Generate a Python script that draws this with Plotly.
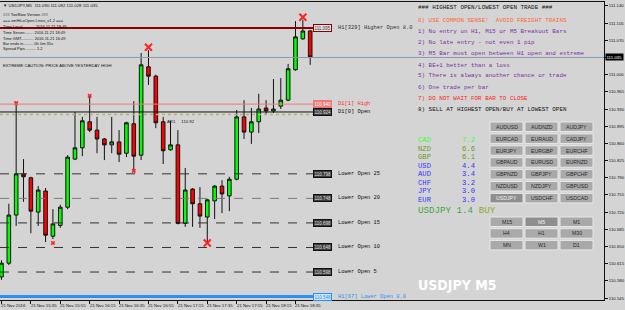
import plotly.graph_objects as go

# ---------------- data ----------------
bar_index = list(range(43))
opens = [110.588, 110.616, 110.714, 110.798, 110.790, 110.720, 110.763, 110.671, 110.693, 110.730,
         110.828, 110.851, 110.904, 110.887, 110.869, 110.857, 110.863, 110.840, 110.900, 110.836,
         111.016, 110.997, 110.904, 110.847, 110.857, 110.697, 110.767, 110.737, 110.710, 110.743,
         110.773, 110.753, 110.787, 110.914, 110.883, 110.904, 110.932, 110.926, 110.936, 110.948,
         111.010, 111.073, 111.089]
highs = [110.622, 110.737, 110.942, 110.828, 110.792, 110.773, 110.769, 110.726, 110.735, 110.836,
         110.924, 110.914, 110.957, 110.914, 110.871, 110.914, 110.887, 110.904, 110.946, 111.044,
         111.050, 111.000, 110.914, 110.906, 110.887, 110.810, 110.769, 110.771, 110.747, 110.775,
         110.785, 110.792, 110.928, 110.948, 110.932, 110.961, 110.948, 110.991, 110.993, 111.022,
         111.109, 111.112, 111.091]
lows = [110.582, 110.612, 110.692, 110.741, 110.677, 110.692, 110.659, 110.665, 110.688, 110.726,
        110.826, 110.834, 110.883, 110.840, 110.826, 110.840, 110.822, 110.832, 110.806, 110.826,
        110.979, 110.891, 110.818, 110.845, 110.695, 110.690, 110.690, 110.688, 110.659, 110.706,
        110.718, 110.722, 110.785, 110.869, 110.859, 110.881, 110.918, 110.922, 110.930, 110.946,
        111.008, 111.071, 111.020]
closes = [110.616, 110.714, 110.798, 110.792, 110.722, 110.765, 110.673, 110.696, 110.730, 110.832,
          110.851, 110.906, 110.887, 110.869, 110.857, 110.863, 110.838, 110.902, 110.834, 111.020,
          110.997, 110.902, 110.845, 110.857, 110.697, 110.765, 110.737, 110.712, 110.745, 110.773,
          110.757, 110.787, 110.914, 110.883, 110.904, 110.930, 110.926, 110.930, 110.948, 111.012,
          111.077, 111.089, 111.036]

time_tick_index = [0, 4, 8, 12, 16, 20, 24, 28, 32, 36, 40]
time_tick_labels = ["21 Nov 2016", "21 Nov 15:35", "21 Nov 15:55", "21 Nov 16:15", "21 Nov 16:35",
                    "21 Nov 16:55", "21 Nov 17:15", "21 Nov 17:35", "21 Nov 17:55", "21 Nov 18:15",
                    "21 Nov 18:35"]

price_ticks = [111.140, 111.105, 111.070, 111.035, 111.000, 110.965, 110.930, 110.895, 110.860,
               110.825, 110.790, 110.755, 110.720, 110.685, 110.650, 110.615, 110.580, 110.545]
price_tick_labels = ["111.140", "111.105", "111.070", "111.035", "111.000", "110.965", "110.930",
                     "110.895", "110.860", "110.825", "110.790", "110.755", "110.720", "110.685",
                     "110.650", "110.615", "110.580", "110.545"]
current_price = 111.035

level_prices = [111.095, 110.940, 110.924, 110.798, 110.748, 110.698, 110.648, 110.598, 110.548]
level_names = ["H1[329] Higher Open 8.0", "D1[1] High", "D1[0] Open", "Lower Open 25",
               "Lower Open 20", "Lower Open 15", "Lower Open 10", "Lower Open 5",
               "H1[67] Lower Open 0.0"]
ar1_price = 110.919
ar1_text = "AR1     110.92"

fractal_index = [2, 12, 7, 18]
fractal_price = [110.942, 110.957, 110.657, 110.804]
cross_index = [28, 20, 41]
cross_price = [110.657, 111.056, 111.117]

header_text = "\u25bc USDJPY,M5  111.090 111.092 111.028 111.035"
info_lines = ["### TooSlow Version ###",
              "=== smHiLoOpen Lines_v1.2 ===",
              "Time Local .......... 2016.11.21 18:49",
              "Time Server........ 2016.11.21 18:49",
              "Time GMT........... 2016.11.21 16:49",
              "Bar ends in......... 0h 0m 35s",
              "Spread Pips.......... 1.2"]
caution_text = "EXTREME CAUTION: PRICE ABOVE YESTERDAY HIGH"

rules_lines = ["### HIGHEST OPEN/LOWEST OPEN TRADE ###",
               "0) USE COMMON SENSE!  AVOID FREIGHT TRAINS",
               "1) No entry on H1, M15 or M5 Breakout Bars",
               "2) No late entry - not even 1 pip",
               "3) M5 Bar must open between H1 open and extreme",
               "4) BE+1 better than a loss",
               "5) There is always another chance or trade",
               "6) One trade per bar",
               "7) DO NOT WAIT FOR BAR TO CLOSE",
               "8) SELL AT HIGHEST OPEN/BUY AT LOWEST OPEN"]

currency_names = ["CAD", "NZD", "GBP", "USD", "AUD", "CHF", "JPY", "EUR"]
currency_strength = [7.2, 6.6, 6.1, 4.4, 3.4, 3.2, 3.0, 3.0]
signal_pair = "USDJPY"
signal_value = 1.4
signal_side = "BUY"

pair_buttons = [["AUDUSD", "AUDNZD", "AUDJPY"],
                ["EURCAD", "EURAUD", "CADJPY"],
                ["EURJPY", "EURGBP", "EURCHF"],
                ["GBPAUD", "EURUSD", "EURNZD"],
                ["GBPNZD", "GBPJPY", "GBPCHF"],
                ["NZDUSD", "NZDJPY", "GBPUSD"],
                ["USDJPY", "USDCHF", "USDCAD"]]
tf_buttons = [["M15", "M5", "M1"],
              ["H4", "H1", "M30"],
              ["MN", "W1", "D1"]]
selected_buttons = ["USDJPY", "M5"]
watermark = "USDJPY M5"

# ---------------- geometry / style ----------------
W, H = 625, 310
ML, MR, MT, MB = 0, 21, 2, 10
PW, PH = W - ML - MR, H - MT - MB
BG = "#D4D4D4"
SANS = "Liberation Sans, Arial, sans-serif"
MONO = "Liberation Mono, Courier New, monospace"


def px(x):
    return (x - ML) / PW


def py(y):
    return 1 - (y - MT) / PH


fig = go.Figure()

fig.add_trace(go.Candlestick(
    x=bar_index, open=opens, high=highs, low=lows, close=closes,
    increasing=dict(fillcolor="#00FF00", line=dict(color="#111111", width=1)),
    decreasing=dict(fillcolor="#FF0000", line=dict(color="#111111", width=1)),
    whiskerwidth=0, showlegend=False, hoverinfo="skip"))

fig.add_trace(go.Scatter(x=fractal_index, y=fractal_price, mode="markers",
                         marker=dict(symbol="x", size=4, color="#FF2020", line=dict(width=0)),
                         showlegend=False, hoverinfo="skip"))
fig.add_trace(go.Scatter(x=cross_index, y=cross_price, mode="markers",
                         marker=dict(symbol="x-thin", size=7, color="#FF2020",
                                     line=dict(width=2, color="#FF2020")),
                         showlegend=False, hoverinfo="skip"))

# level lines
line_styles = [
    dict(color="#8B0000", width=2, dash="solid"),
    dict(color="#F07878", width=1, dash="solid"),
    dict(color="#111111", width=1, dash="solid"),
    dict(color="#333333", width=1, dash="dash"),
    dict(color="#7A7A7A", width=1, dash="dash"),
    dict(color="#333333", width=1, dash="dash"),
    dict(color="#333333", width=1, dash="dash"),
    dict(color="#333333", width=1, dash="dash"),
    dict(color="#2E8FF0", width=3, dash="solid"),
]
box_styles = [
    dict(bg="#E4E4E4", border="#8B0000", fc="#333333"),
    dict(bg="#F07878", border="#F07878", fc="#FFFFFF"),
    dict(bg="#3A3A3A", border="#111111", fc="#E0E0E0"),
    dict(bg="#3A3A3A", border="#111111", fc="#E0E0E0"),
    dict(bg="#3A3A3A", border="#111111", fc="#E0E0E0"),
    dict(bg="#3A3A3A", border="#111111", fc="#E0E0E0"),
    dict(bg="#3A3A3A", border="#111111", fc="#E0E0E0"),
    dict(bg="#3A3A3A", border="#111111", fc="#E0E0E0"),
    dict(bg="#CFE6FF", border="#2E8FF0", fc="#2E8FF0"),
]
name_colors = ["#333333", "#FF3030", "#111111", "#111111", "#111111", "#111111", "#111111",
               "#111111", "#2E8FF0"]

# bid line
fig.add_shape(type="line", xref="paper", yref="y", x0=0, x1=1, y0=current_price, y1=current_price,
              line=dict(color="#8A9AAA", width=1))
# AR1 dotted line
fig.add_shape(type="line", xref="paper", yref="y", x0=0, x1=px(313), y0=ar1_price, y1=ar1_price,
              line=dict(color="#B4B46A", width=1.5, dash="dot"))
fig.add_annotation(x=px(166), y=ar1_price, xref="paper", yref="y", yshift=-3.5, text=ar1_text,
                   showarrow=False, xanchor="left", yanchor="top",
                   font=dict(family=SANS, size=4.3, color="#111111"), borderpad=0)

for p, nm, ls, bs, nc in zip(level_prices, level_names, line_styles, box_styles, name_colors):
    fig.add_shape(type="line", xref="paper", yref="y", x0=0, x1=px(314), y0=p, y1=p, line=ls)
    fig.add_annotation(x=px(313), y=p, xref="paper", yref="y", text=f"{p:.3f}", showarrow=False,
                       xanchor="left", yanchor="middle", bgcolor=bs["bg"], bordercolor=bs["border"],
                       borderwidth=1, borderpad=0.5,
                       font=dict(family=SANS, size=4.5, color=bs["fc"]))
    fig.add_annotation(x=px(337), y=p, xref="paper", yref="y", text=nm, showarrow=False,
                       xanchor="left", yanchor="middle",
                       font=dict(family=MONO, size=5.4, color=nc), borderpad=0)

# current price tag on axis (replaces that tick's own label, as in the terminal)
axis_labels = ["" if abs(v - current_price) < 1e-9 else t for v, t in zip(price_ticks, price_tick_labels)]
fig.add_annotation(x=px(605), y=current_price, xref="paper", yref="y", text=f"{current_price:.3f}",
                   showarrow=False, xanchor="left", yanchor="middle", bgcolor="#000000",
                   borderpad=0.5, font=dict(family=SANS, size=4.3, color="#FFFFFF"))

# time labels
for i, lab in zip(time_tick_index, time_tick_labels):
    fig.add_annotation(x=i, y=py(305.5), xref="x", yref="paper", text=lab, showarrow=False,
                       xanchor="left", yanchor="middle", xshift=-1, borderpad=0,
                       font=dict(family=SANS, size=4.3, color="#111111"))

# top-left info
fig.add_annotation(x=px(2), y=py(5), xref="paper", yref="paper", text=header_text, showarrow=False,
                   xanchor="left", yanchor="middle", borderpad=0,
                   font=dict(family=SANS, size=4.3, color="#111111"))
info_y = [15, 20.5, 26, 32.5, 38, 43.5, 49]
for t, yy in zip(info_lines, info_y):
    fig.add_annotation(x=px(2), y=py(yy), xref="paper", yref="paper", text=t, showarrow=False,
                       xanchor="left", yanchor="middle", borderpad=0,
                       font=dict(family=SANS, size=4.0, color="#111111"))
fig.add_annotation(x=px(2), y=py(65), xref="paper", yref="paper", text=caution_text, showarrow=False,
                   xanchor="left", yanchor="middle", borderpad=0,
                   font=dict(family=SANS, size=4.2, color="#111111"))

# rules list
rule_colors = ["#111111", "#FF6633", "#7A2FA8", "#7A2FA8", "#7A2FA8", "#7A2FA8", "#7A2FA8",
               "#7A2FA8", "#FF2020", "#111111"]
rule_y = [8, 20.5, 31.5, 42.5, 53.5, 65, 76, 87, 98, 109]
for t, c, yy in zip(rules_lines, rule_colors, rule_y):
    fig.add_annotation(x=px(417), y=py(yy), xref="paper", yref="paper", text=t, showarrow=False,
                       xanchor="left", yanchor="middle", borderpad=0,
                       font=dict(family=MONO, size=5.9, color=c))

# currency strength
cur_colors = ["#33FF33", "#6E9A2A", "#6E9A2A", "#3535FF", "#3535FF", "#3535FF", "#3535FF", "#3535FF"]
cur_y = [140, 148.5, 157, 165.5, 174, 182.5, 191, 199.5]
for nm, v, c, yy in zip(currency_names, currency_strength, cur_colors, cur_y):
    fig.add_annotation(x=px(417), y=py(yy), xref="paper", yref="paper", text=nm, showarrow=False,
                       xanchor="left", yanchor="middle", borderpad=0,
                       font=dict(family=MONO, size=7.2, color=c))
    fig.add_annotation(x=px(461), y=py(yy), xref="paper", yref="paper", text=f"{v:.1f}",
                       showarrow=False, xanchor="left", yanchor="middle", borderpad=0,
                       font=dict(family=MONO, size=7.2, color=c))
fig.add_annotation(x=px(417), y=py(210.5), xref="paper", yref="paper",
                   text=f"{signal_pair} {signal_value:.1f} <span style='color:#8AAA2A'>{signal_side}</span>",
                   showarrow=False, xanchor="left", yanchor="middle", borderpad=0,
                   font=dict(family=MONO, size=9.2, color="#3FA83F"))

# buttons
col_x = [490, 525, 560]
bw = 33


def draw_buttons(grid, y0, pitch, bh):
    for r, row in enumerate(grid):
        for c, lab in enumerate(row):
            x0 = col_x[c]
            yt = y0 + r * pitch
            sel = lab in selected_buttons
            fig.add_shape(type="rect", xref="paper", yref="paper",
                          x0=px(x0), x1=px(x0 + bw), y0=py(yt + bh), y1=py(yt),
                          fillcolor="#8E8E8E" if sel else "#A9A9A9",
                          line=dict(color="#E8E8E8", width=1))
            fig.add_annotation(x=px(x0 + bw / 2), y=py(yt + bh / 2), xref="paper", yref="paper",
                               text=lab, showarrow=False, xanchor="center", yanchor="middle",
                               borderpad=0,
                               font=dict(family=SANS, size=5.2,
                                         color="#EEEEEE" if sel else "#2A2A2A"))


draw_buttons(pair_buttons, 122, 11.9, 9.5)
draw_buttons(tf_buttons, 217, 11.7, 9.5)

# watermark
fig.add_annotation(x=px(417), y=py(285), xref="paper", yref="paper", text=f"<b>{watermark}</b>",
                   showarrow=False, xanchor="left", yanchor="middle", borderpad=0,
                   font=dict(family="DejaVu Sans Condensed, Liberation Sans Narrow, Arial Narrow, Liberation Sans, sans-serif",
                             size=14, color="#FFFFFF"))

fig.update_layout(
    width=W, height=H, margin=dict(l=ML, r=MR, t=MT, b=MB),
    paper_bgcolor=BG, plot_bgcolor=BG, showlegend=False,
    xaxis=dict(range=[-0.2, 81.97], showgrid=False, zeroline=False, rangeslider=dict(visible=False),
               tickvals=time_tick_index, showticklabels=False, ticks="outside", ticklen=3,
               tickcolor="#111111", showline=True, mirror=True, linecolor="#111111", linewidth=1),
    yaxis=dict(range=[110.541, 111.148], side="right", showgrid=False, zeroline=False,
               tickvals=price_ticks, ticktext=axis_labels, ticks="outside", ticklen=3,
               tickcolor="#111111", tickfont=dict(family=SANS, size=4.3, color="#111111"),
               showline=True, mirror=True, linecolor="#111111", linewidth=1),
    boxgap=0.3,
)

fig.write_html("out.html")
